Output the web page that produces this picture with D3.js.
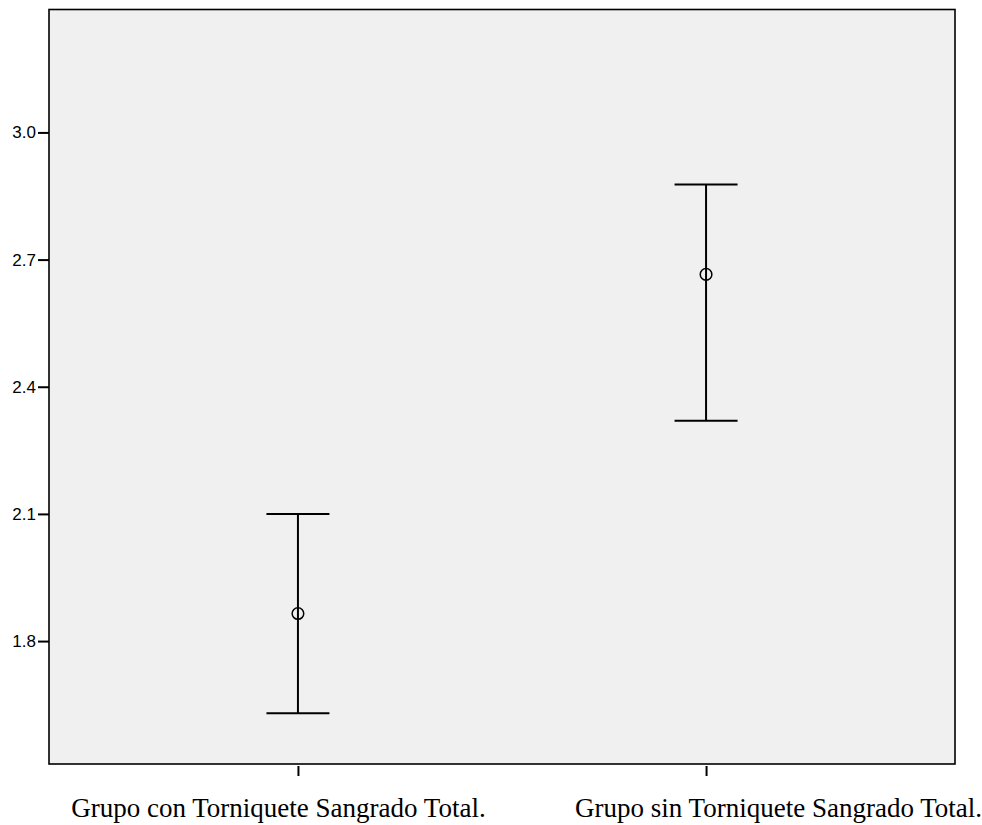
<!DOCTYPE html>
<html>
<head>
<meta charset="utf-8">
<script src="https://cdn.jsdelivr.net/npm/d3@7"></script>
<style>
  body { margin: 0; background: #fff; }
</style>
</head>
<body>
<div id="chart"></div>
<script>
// groups and their error bar values (mean, lower, upper)
var groups = ["Grupo con Torniquete Sangrado Total.", "Grupo sin Torniquete Sangrado Total."];
var means = [1.865, 2.665];
var lowers = [1.630, 2.320];
var uppers = [2.100, 2.877];
var yTicks = [1.8, 2.1, 2.4, 2.7, 3.0];

var width = 982, height = 825;
var margin = { top: 9.5, right: 27, bottom: 61, left: 49 };

var svg = d3.select("#chart").append("svg")
  .attr("width", width)
  .attr("height", height);

var x = d3.scalePoint()
  .domain(groups)
  .range([margin.left, width - margin.right])
  .padding(0.61);

var y = d3.scaleLinear()
  .domain([1.51, 3.29])
  .range([height - margin.bottom, margin.top]);

// plot background
svg.append("rect")
  .attr("x", margin.left)
  .attr("y", margin.top)
  .attr("width", width - margin.left - margin.right)
  .attr("height", height - margin.top - margin.bottom)
  .attr("fill", "#f0f0f0")
  .attr("stroke", "#000")
  .attr("stroke-width", 1.6);

// y axis
var yAxis = d3.axisLeft(y)
  .tickValues(yTicks)
  .tickFormat(d3.format(".1f"))
  .tickSize(11)
  .tickPadding(2);

svg.append("g")
  .attr("transform", "translate(" + margin.left + ",0)")
  .call(yAxis)
  .call(function(g) { g.select(".domain").remove(); })
  .call(function(g) {
    g.selectAll("line").attr("stroke", "#000").attr("stroke-width", 2);
    g.selectAll("text")
      .attr("fill", "#000")
      .style("font-family", "'Liberation Sans', Arial, sans-serif")
      .style("font-size", "17px");
  });

// x axis
var labelShift = [-20, 72];
var xAxis = d3.axisBottom(x)
  .tickSize(10)
  .tickPadding(22);

svg.append("g")
  .attr("transform", "translate(0," + (height - margin.bottom + 2) + ")")
  .call(xAxis)
  .call(function(g) { g.select(".domain").remove(); })
  .call(function(g) {
    g.selectAll("line").attr("stroke", "#000").attr("stroke-width", 2);
    g.selectAll("text")
      .attr("fill", "#000")
      .attr("dx", function(d, i) { return labelShift[i]; })
      .style("font-family", "'Liberation Serif', 'Times New Roman', serif")
      .style("font-size", "27px");
  });

// error bars
var capHalf = 31.5;
var bars = svg.selectAll(".errbar")
  .data(groups)
  .enter().append("g")
  .attr("class", "errbar");

bars.append("line")
  .attr("x1", function(d) { return x(d); })
  .attr("x2", function(d) { return x(d); })
  .attr("y1", function(d, i) { return y(lowers[i]); })
  .attr("y2", function(d, i) { return y(uppers[i]); })
  .attr("stroke", "#000")
  .attr("stroke-width", 2);

bars.append("line")
  .attr("x1", function(d) { return x(d) - capHalf; })
  .attr("x2", function(d) { return x(d) + capHalf; })
  .attr("y1", function(d, i) { return y(uppers[i]); })
  .attr("y2", function(d, i) { return y(uppers[i]); })
  .attr("stroke", "#000")
  .attr("stroke-width", 2);

bars.append("line")
  .attr("x1", function(d) { return x(d) - capHalf; })
  .attr("x2", function(d) { return x(d) + capHalf; })
  .attr("y1", function(d, i) { return y(lowers[i]); })
  .attr("y2", function(d, i) { return y(lowers[i]); })
  .attr("stroke", "#000")
  .attr("stroke-width", 2);

bars.append("circle")
  .attr("cx", function(d) { return x(d); })
  .attr("cy", function(d, i) { return y(means[i]); })
  .attr("r", 5.8)
  .attr("fill", "none")
  .attr("stroke", "#000")
  .attr("stroke-width", 1.5);
</script>
</body>
</html>
